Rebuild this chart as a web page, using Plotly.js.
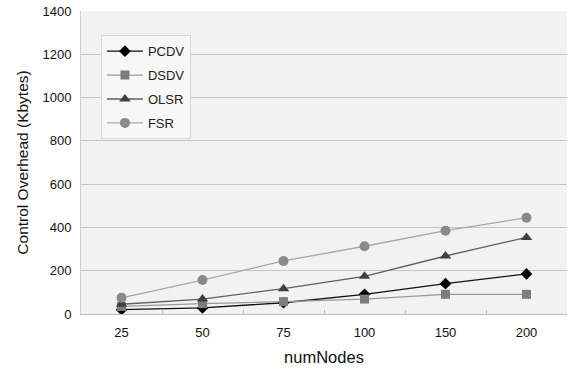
<!DOCTYPE html>
<html>
<head>
<meta charset="utf-8">
<script src="https://cdn.plot.ly/plotly-3.0.1.min.js"></script>
<style>html,body{margin:0;padding:0;background:#fff;}#chart{width:573px;height:372px;}</style>
</head>
<body>
<div id="chart"></div>
<script>
const categories = ["25", "50", "75", "100", "150", "200"];
const pcdv = [20, 28, 52, 91, 140, 185];
const dsdv = [35, 48, 57, 69, 91, 91];
const olsr = [45, 69, 117, 174, 268, 354];
const fsr  = [75, 157, 245, 313, 385, 445];
const yTicks = [0, 200, 400, 600, 800, 1000, 1200, 1400];

function tr(name, y, lineColor, markerColor, symbol, size, group) {
  return {
    type: 'scatter', mode: 'lines+markers', name: name, x: categories, y: y,
    legendgroup: group,
    line: {color: lineColor, width: 1.3},
    marker: {color: markerColor, symbol: symbol, size: size}
  };
}

const data = [
  tr('PCDV', pcdv, '#111111', '#000000', 'diamond', 9, 'a'),
  tr('DSDV', dsdv, '#9a9a9a', '#7d7d7d', 'square', 9, 'b'),
  tr('OLSR', olsr, '#606060', '#3f3f3f', 'triangle-up', 10, 'c'),
  tr('FSR',  fsr,  '#a8a8a8', '#8a8a8a', 'circle', 10, 'd')
];

const layout = {
  width: 573, height: 372,
  margin: {l: 81, r: 6, t: 11, b: 58},
  paper_bgcolor: '#ffffff',
  plot_bgcolor: '#f2f2f2',
  font: {family: 'Liberation Sans, Arial, sans-serif', color: '#111'},
  showlegend: true,
  legend: {
    x: 0.041, y: 0.92, xanchor: 'left', yanchor: 'top',
    bgcolor: '#f7f7f7', bordercolor: '#d8d8d8', borderwidth: 1,
    font: {size: 13, color: '#222'},
    tracegroupgap: 4,
    itemwidth: 36
  },
  xaxis: {
    type: 'category',
    range: [-0.5, 5.5],
    title: {text: 'numNodes', font: {size: 16.5, color: '#111'}, standoff: 12},
    tickfont: {size: 13, color: '#111'},
    ticklabelstandoff: 6,
    showgrid: false,
    showline: true, linecolor: '#bdbdbd', linewidth: 1,
    ticks: 'inside', tickson: 'boundaries', ticklen: 4, tickcolor: '#bbbbbb',
    zeroline: false
  },
  yaxis: {
    range: [0, 1400],
    tickvals: yTicks,
    title: {text: 'Control Overhead (Kbytes)', font: {size: 15.5, color: '#111'}, standoff: 10},
    tickfont: {size: 13, color: '#111'},
    ticklabelstandoff: 6,
    showgrid: true, gridcolor: '#c4c4c4', gridwidth: 1,
    showline: true, linecolor: '#cfcfcf',
    zeroline: false,
    ticks: ''
  }
};

Plotly.newPlot('chart', data, layout, {displayModeBar: false, staticPlot: true});
</script>
</body>
</html>
